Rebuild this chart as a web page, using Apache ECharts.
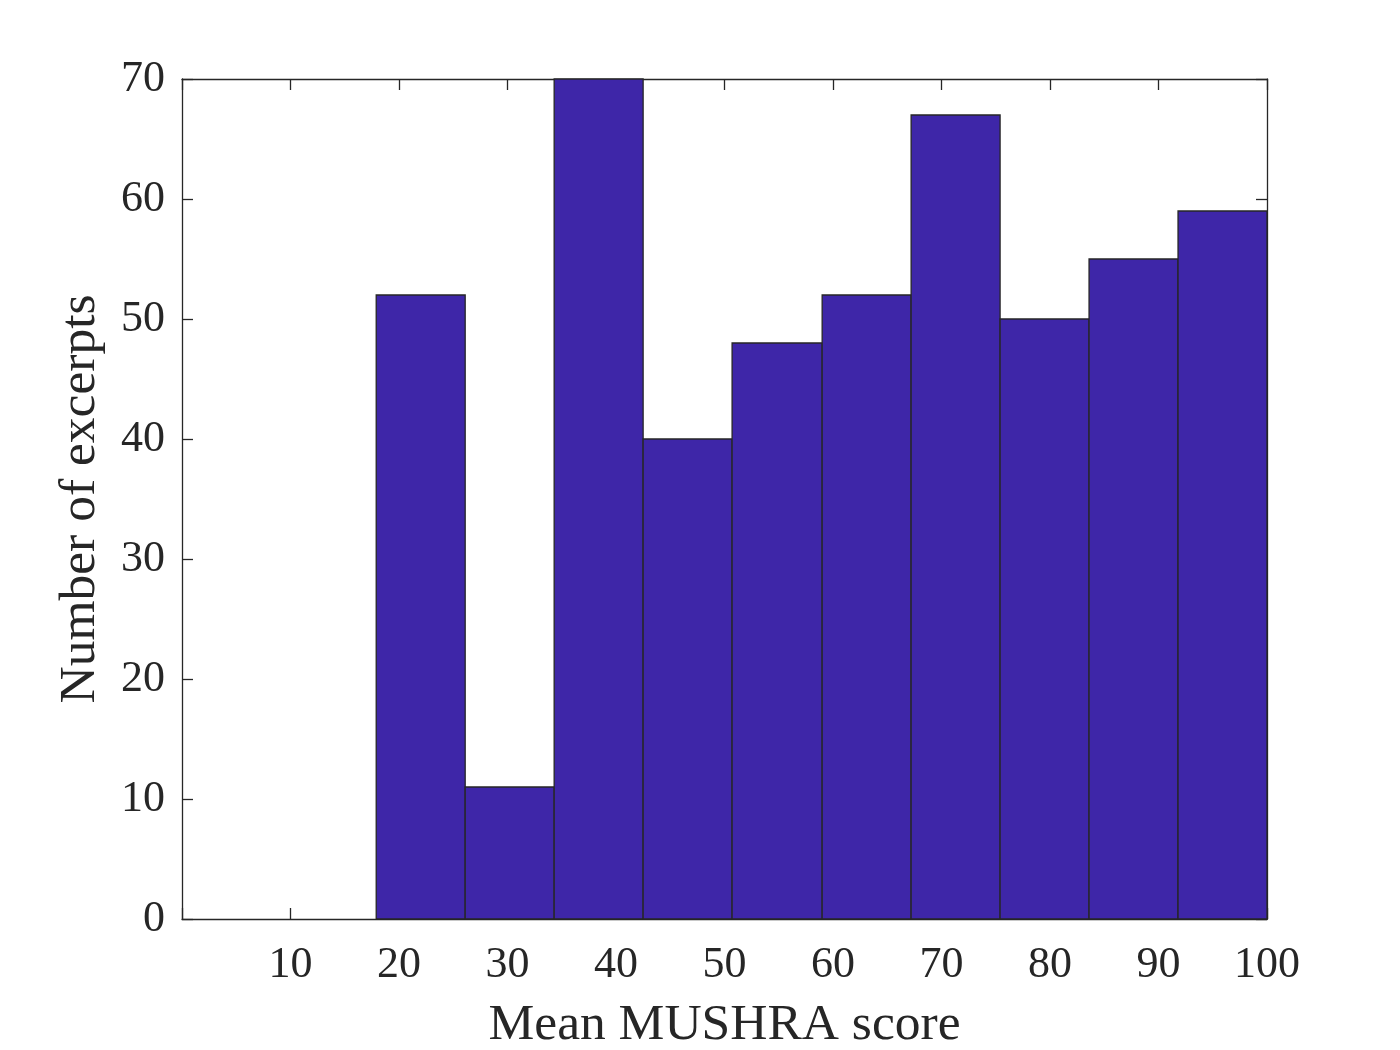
<!DOCTYPE html>
<html>
<head>
<meta charset="utf-8">
<script src="https://cdn.jsdelivr.net/npm/echarts@6/dist/echarts.min.js"></script>
<style>
  html, body { margin: 0; padding: 0; background: #fff; }
  #chart { width: 1400px; height: 1050px; }
</style>
</head>
<body>
<div id="chart"></div>
<script>
// histogram bin edges (mean MUSHRA score) and counts per bin
const binEdges = [17.9, 26.1, 34.3, 42.5, 50.7, 59.0, 67.2, 75.4, 83.6, 91.8, 100];
const counts = [52, 11, 70, 40, 48, 52, 67, 50, 55, 59];
const xTicks = [10, 20, 30, 40, 50, 60, 70, 80, 90, 100];
const yTicks = [0, 10, 20, 30, 40, 50, 60, 70];

const barColor = "#3E26A8";
const ink = "#262626";
const font = "Liberation Serif, Times New Roman, serif";

const bins = counts.map((c, i) => [binEdges[i], binEdges[i + 1], c]);

const chart = echarts.init(document.getElementById("chart"), null, { renderer: "canvas" });

const tickStyle = { show: true, inside: true, length: 11, lineStyle: { color: ink, width: 1.3 } };
const lineStyle = { show: true, onZero: false, lineStyle: { color: ink, width: 1.3 } };

chart.setOption({
    animation: false,
    backgroundColor: "#ffffff",
    grid: { left: 182, right: 133, top: 79, bottom: 131, containLabel: false, outerBoundsMode: "none" },
    xAxis: [
        {
            type: "value",
            min: 0,
            max: 100,
            interval: 10,
            name: "Mean MUSHRA score",
            nameLocation: "middle",
            nameGap: 80,
            nameTextStyle: { fontFamily: font, fontSize: 51.5, color: ink },
            axisLine: lineStyle,
            axisTick: tickStyle,
            splitLine: { show: false },
            axisLabel: {
                fontFamily: font,
                fontSize: 44,
                color: ink,
                margin: 24,
                formatter: v => (xTicks.indexOf(v) >= 0 ? String(v) : "")
            }
        },
        {
            type: "value",
            position: "top",
            min: 0,
            max: 100,
            interval: 10,
            axisLine: lineStyle,
            axisTick: tickStyle,
            splitLine: { show: false },
            axisLabel: { show: false }
        }
    ],
    yAxis: [
        {
            type: "value",
            min: 0,
            max: 70,
            interval: 10,
            name: "Number of excerpts",
            nameLocation: "middle",
            nameGap: 76,
            nameTextStyle: { fontFamily: font, fontSize: 51.5, color: ink },
            axisLine: lineStyle,
            axisTick: tickStyle,
            splitLine: { show: false },
            axisLabel: {
                fontFamily: font,
                fontSize: 44,
                color: ink,
                margin: 17,
                formatter: v => (yTicks.indexOf(v) >= 0 ? String(v) : "")
            }
        },
        {
            type: "value",
            position: "right",
            min: 0,
            max: 70,
            interval: 10,
            axisLine: lineStyle,
            axisTick: tickStyle,
            splitLine: { show: false },
            axisLabel: { show: false }
        }
    ],
    series: [
        {
            type: "custom",
            name: "Excerpts",
            xAxisIndex: 0,
            yAxisIndex: 0,
            encode: { x: [0, 1], y: 2 },
            data: bins,
            renderItem: (params, api) => {
                const topLeft = api.coord([api.value(0), api.value(2)]);
                const bottomRight = api.coord([api.value(1), 0]);
                return {
                    type: "rect",
                    shape: {
                        x: topLeft[0],
                        y: topLeft[1],
                        width: bottomRight[0] - topLeft[0],
                        height: bottomRight[1] - topLeft[1]
                    },
                    style: { fill: barColor, stroke: ink, lineWidth: 1.3 }
                };
            }
        }
    ]
});
</script>
</body>
</html>
